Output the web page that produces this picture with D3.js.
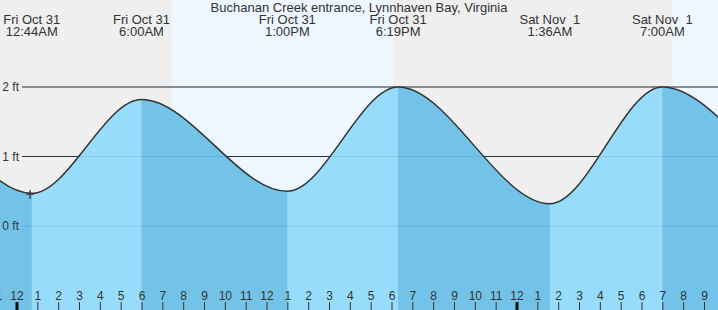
<!DOCTYPE html>
<html>
<head>
<meta charset="utf-8">
<script src="https://cdn.jsdelivr.net/npm/d3@7"></script>
<style>
  body { margin: 0; background: #fff; }
  svg { display: block; font-family: "Liberation Sans", Arial, sans-serif; }
</style>
</head>
<body>
<div id="chart"></div>
<script>
// Tide extremes (local time), heights in feet
const extremeTimes = ["2025-10-30T12:00", "2025-10-30T17:50", "2025-10-31T00:44", "2025-10-31T06:00",
                      "2025-10-31T13:00", "2025-10-31T18:19", "2025-11-01T01:36", "2025-11-01T07:00",
                      "2025-11-01T14:15", "2025-11-01T19:40"];
const extremeFeet = [0.5, 1.9, 0.47, 1.82, 0.5, 2.0, 0.32, 2.0, 0.6, 2.0];

// Daylight spans (sunrise, sunset)
const sunrise = ["2025-10-31T07:29", "2025-11-01T07:30"];
const sunset = ["2025-10-31T18:06", "2025-11-01T18:05"];

// Current time marker
const nowTime = "2025-10-31T00:39";
const nowFeet = 0.46;

const feetTicks = [0, 1, 2];
const title = "Buchanan Creek entrance, Lynnhaven Bay, Virginia";

const width = 718, height = 310;
const parse = d3.utcParse("%Y-%m-%dT%H:%M");

const tides = extremeTimes.map((t, i) => ({ t: parse(t), v: extremeFeet[i] }));

const svg = d3.select("#chart")
    .append("svg")
    .attr("width", width)
    .attr("height", height);

// Scales: midnight to midnight spans 500px
const x = d3.scaleUtc()
    .domain([parse("2025-10-31T00:00"), parse("2025-11-01T00:00")])
    .range([16.5, 516.5]);

const y = d3.scaleLinear()
    .domain([0, 2])
    .range([226, 87]);

// Night background, then day spans
svg.append("rect")
    .attr("width", width)
    .attr("height", height)
    .attr("fill", "#efefef");

svg.selectAll(".day")
    .data(sunrise.map((s, i) => [parse(s), parse(sunset[i])]))
    .enter()
    .append("rect")
    .attr("class", "day")
    .attr("x", d => x(d[0]))
    .attr("width", d => x(d[1]) - x(d[0]))
    .attr("y", 0)
    .attr("height", height)
    .attr("fill", "#eef7ff");

// Grid lines (dark, under the water)
svg.selectAll(".grid")
    .data(feetTicks)
    .enter()
    .append("line")
    .attr("class", "grid")
    .attr("x1", 22)
    .attr("x2", width)
    .attr("y1", d => y(d))
    .attr("y2", d => y(d))
    .attr("stroke", "#333")
    .attr("stroke-width", 1);

// Water area
const area = d3.area()
    .x(d => x(d.t))
    .y0(height)
    .y1(d => y(d.v))
    .curve(d3.curveMonotoneX);

const line = d3.line()
    .x(d => x(d.t))
    .y(d => y(d.v))
    .curve(d3.curveMonotoneX);

svg.append("path")
    .datum(tides)
    .attr("d", area)
    .attr("fill", "#98dcfc");

// Falling tide is darker: clip to high -> low intervals
const falling = [];
for (let i = 0; i < tides.length - 1; i++) {
    if (tides[i].v > tides[i + 1].v) falling.push([tides[i].t, tides[i + 1].t]);
}

const clip = svg.append("clipPath").attr("id", "fall");
clip.selectAll("rect")
    .data(falling)
    .enter()
    .append("rect")
    .attr("x", d => x(d[0]))
    .attr("width", d => x(d[1]) - x(d[0]))
    .attr("y", 0)
    .attr("height", height);

svg.append("path")
    .datum(tides)
    .attr("d", area)
    .attr("clip-path", "url(#fall)")
    .attr("fill", "#73c2e7");

// Faint grid lines showing through the water
svg.selectAll(".gridw")
    .data(feetTicks)
    .enter()
    .append("line")
    .attr("class", "gridw")
    .attr("x1", 22)
    .attr("x2", width)
    .attr("y1", d => y(d))
    .attr("y2", d => y(d))
    .attr("stroke", "rgba(0,70,130,0.13)")
    .attr("stroke-width", 1);

// Tide curve
svg.append("path")
    .datum(tides)
    .attr("d", line)
    .attr("fill", "none")
    .attr("stroke", "#333")
    .attr("stroke-width", 1.5);

// Feet labels
svg.selectAll(".flabel")
    .data(feetTicks)
    .enter()
    .append("text")
    .attr("class", "flabel")
    .attr("x", 19)
    .attr("y", d => y(d))
    .attr("dy", "0.35em")
    .attr("text-anchor", "end")
    .attr("font-size", 12)
    .attr("fill", "#333")
    .text(d => d + " ft");

// Now marker
const nx = x(parse(nowTime)), ny = y(nowFeet);
svg.append("path")
    .attr("d", `M${nx - 4},${ny}H${nx + 4}M${nx},${ny - 4}V${ny + 5}`)
    .attr("stroke", "#333")
    .attr("stroke-width", 1.2);

// Hour axis along the bottom
const hours = d3.utcHour.range(x.invert(-10), x.invert(width + 10));
const axis = svg.append("g")
    .attr("transform", `translate(0,${height})`)
    .call(d3.axisTop(x)
        .tickValues(hours)
        .tickSize(8)
        .tickPadding(2)
        .tickFormat(d3.utcFormat("%-I")));

axis.select(".domain").remove();
axis.selectAll("text")
    .attr("font-size", 12)
    .attr("font-family", "Liberation Sans, Arial, sans-serif")
    .attr("fill", "#333");
axis.selectAll("line").attr("stroke", "#333");
axis.selectAll(".tick")
    .filter(d => d.getUTCHours() === 0)
    .select("line")
    .attr("stroke", "#111")
    .attr("stroke-width", 3);

// Title
svg.append("text")
    .attr("x", width / 2)
    .attr("y", 12)
    .attr("text-anchor", "middle")
    .attr("font-size", 13)
    .attr("fill", "#333")
    .text(title);

// High / low time labels
const visible = tides.filter(d => x(d.t) > 0 && x(d.t) < width);
const dayFmt = d3.utcFormat("%a %b %e");
const timeFmt = d3.utcFormat("%-I:%M%p");

const labels = svg.selectAll(".tlabel")
    .data(visible)
    .enter()
    .append("text")
    .attr("class", "tlabel")
    .attr("text-anchor", "middle")
    .attr("font-size", 13)
    .attr("fill", "#333")
    .style("white-space", "pre");

labels.append("tspan")
    .attr("x", d => x(d.t))
    .attr("y", 24)
    .text(d => dayFmt(d.t));

labels.append("tspan")
    .attr("x", d => x(d.t))
    .attr("y", 36)
    .text(d => timeFmt(d.t));
</script>
</body>
</html>
